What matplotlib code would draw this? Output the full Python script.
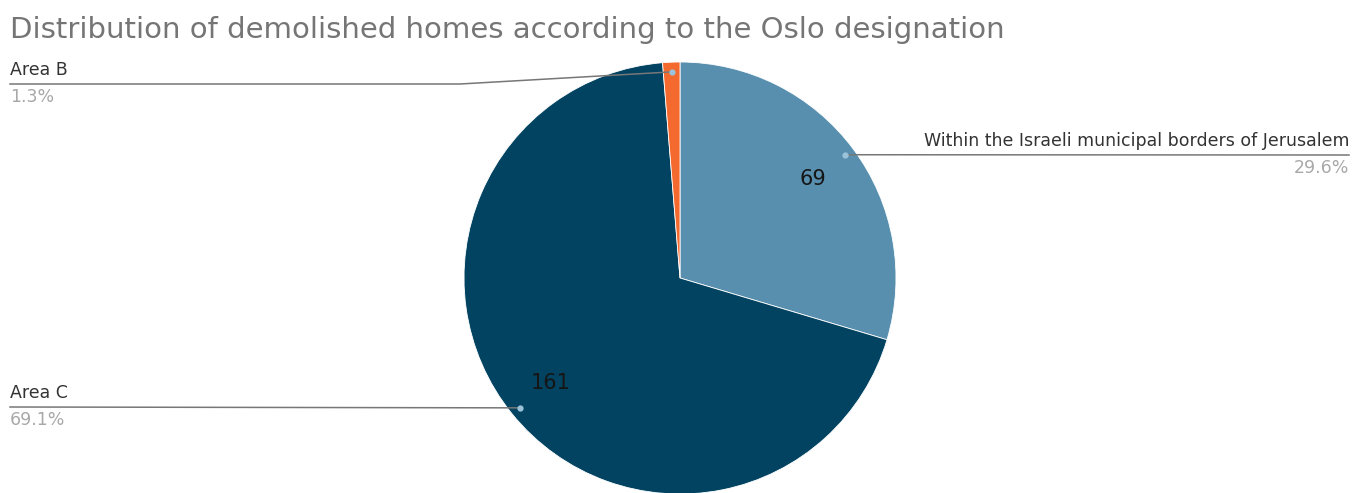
import numpy as np
import matplotlib.pyplot as plt

# Data
labels = ["Within the Israeli municipal borders of Jerusalem", "Area C", "Area B"]
values = [69, 161, 3]
colors = ["#588fae", "#014361", "#f4692d"]

W, H = 1355, 493
plt.rcParams["font.family"] = ["DejaVu Sans"]

fig = plt.figure(figsize=(W / 100, H / 100), dpi=100)
ax = fig.add_axes([0, 0, 1, 1])


def Y(y):
    # image pixel row -> axes y
    return H - y


cx, cy, r = 680, Y(278), 216
wedges, _ = ax.pie(values, colors=colors, startangle=90, counterclock=False,
                   center=(cx, cy), radius=r, frame=True,
                   wedgeprops=dict(edgecolor="white", linewidth=0.6))
ax.set_xlim(0, W)
ax.set_ylim(0, H)
ax.set_aspect("equal")
ax.axis("off")

total = sum(values)

# label placement: (x of text, y of leader line, side)
label_pos = {
    "Within the Israeli municipal borders of Jerusalem": (1349, 155, "right"),
    "Area C": (10, 407, "left"),
    "Area B": (10, 84, "left"),
}

for w, lab, v in zip(wedges, labels, values):
    mid = np.deg2rad((w.theta1 + w.theta2) / 2)
    px = cx + 0.955 * r * np.cos(mid)
    py = cy + 0.955 * r * np.sin(mid)
    tx, ly, side = label_pos[lab]
    if lab == "Area B":
        ax.plot([tx, 460, px], [Y(ly), Y(ly), py], color="#777777", lw=1.1, zorder=3)
    else:
        ax.plot([tx, px], [Y(ly), py], color="#777777", lw=1.1, zorder=3)
    ax.plot(px, py, "o", ms=3.5, color="#9cc3da", zorder=4)
    ax.text(tx, Y(ly) + 5, lab, ha=side, va="bottom", fontsize=12.5, color="#333333")
    ax.text(tx, Y(ly) - 4, f"{v / total * 100:.1f}%", ha=side, va="top",
            fontsize=12.5, color="#a8a8a8")
    if v / total > 0.05:
        vx = cx + 0.77 * r * np.cos(mid)
        vy = cy + 0.77 * r * np.sin(mid)
        ax.text(vx, vy, str(v), ha="center", va="center", fontsize=15,
                color="#151515")

ax.text(10, Y(38), "Distribution of demolished homes according to the Oslo designation",
        ha="left", va="baseline", fontsize=21, color="#757575")

fig.savefig("out.png", dpi=100)
